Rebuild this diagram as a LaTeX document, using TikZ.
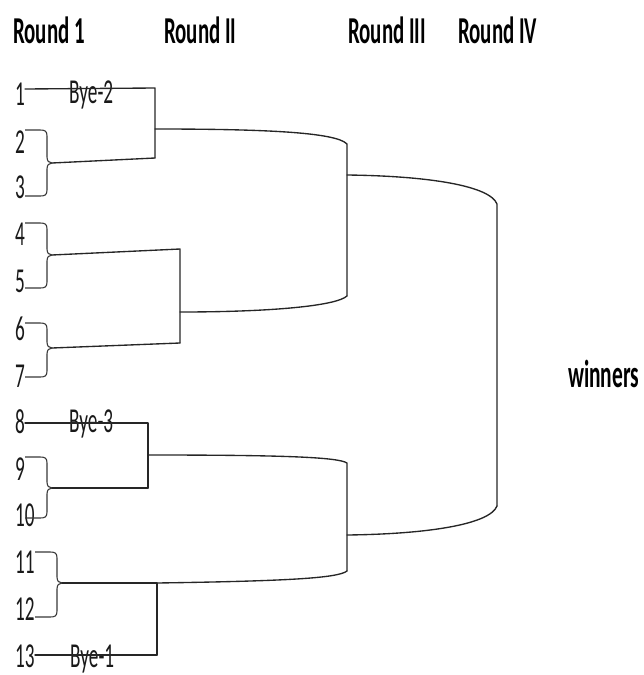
\documentclass[tikz,border=0pt]{standalone}
\usepackage{fontspec}
\newfontfamily\lblfont[FakeStretch=0.55]{Carlito}
\begin{document}
\begin{tikzpicture}[x=1pt,y=-1pt,
  hdr/.style={anchor=base west,inner sep=0pt,font=\lblfont\bfseries\fontsize{38}{38}\selectfont},
  numlbl/.style={anchor=base west,inner sep=0pt,text=black!90,font=\lblfont\fontsize{35}{35}\selectfont},
  byelbl/.style={numlbl},
  link/.style={draw=black!85,line width=1.35pt,line join=round,line cap=round},
  brline/.style={draw=black!78,line width=1.1pt,line join=round}]
\useasboundingbox (0,0) rectangle (643,675);

% curly bracket joining two entrants: start x, spine x, top y, tip y, bottom y
\newcommand\pairbrace[5]{%
  \draw[brline] (#1,#3) -- (#2-7,#3) .. controls (#2-2,#3) and (#2,#3+1) .. (#2,#3+6)
    -- (#2,#4-6) .. controls (#2,#4-2) and (#2+2,#4) .. (#2+5,#4)
    .. controls (#2+2,#4) and (#2,#4+2) .. (#2,#4+6)
    -- (#2,#5-6) .. controls (#2,#5-1) and (#2-2,#5) .. (#2-7,#5) -- (#1,#5);}

% column headings
\node[hdr] (hR1) at (13,43) {Round 1};
\node[hdr] (hR2) at (164,43) {Round II};
\node[hdr] (hR3) at (348,43) {Round III};
\node[hdr] (hR4) at (458,43) {Round IV};
\node[hdr,font=\lblfont\bfseries\fontsize{39}{39}\selectfont] (win) at (568,387) {winners};

% entrants
\node[numlbl] (n1) at (15,105) {1};
\node[numlbl] (n2) at (15,153) {2};
\node[numlbl] (n3) at (15,198) {3};
\node[numlbl] (n4) at (15,245) {4};
\node[numlbl] (n5) at (15,292) {5};
\node[numlbl] (n6) at (15,340) {6};
\node[numlbl] (n7) at (15,387) {7};
\node[numlbl] (n8) at (15,433) {8};
\node[numlbl] (n9) at (15,480) {9};
\node[numlbl] (n10) at (15,526) {10};
\node[numlbl] (n11) at (15,573) {11};
\node[numlbl] (n12) at (15,620) {12};
\node[numlbl] (n13) at (15,667) {13};

% byes
\node[byelbl] (bye2) at (69,103) {Bye-2};
\node[byelbl] (bye3) at (69,432) {Bye-3};
\node[byelbl] (bye1) at (70,667) {Bye-1};

% junction points
\coordinate (s1) at (25,89);
\coordinate (a1top) at (155,88);
\coordinate (a1mid) at (155,129);
\coordinate (a1bot) at (155,158);
\coordinate (t23) at (52,163);

\coordinate (t45) at (52,255);
\coordinate (t67) at (52,348);
\coordinate (b1top) at (180,249);
\coordinate (b1mid) at (180,312);
\coordinate (b1bot) at (180,343);

\coordinate (r3top) at (347,144);
\coordinate (r3mid) at (347,175);
\coordinate (r3bot) at (347,296);

\coordinate (s8) at (25,423);
\coordinate (c1top) at (148,423);
\coordinate (c1mid) at (148,455);
\coordinate (c1bot) at (148,488);
\coordinate (t910) at (52,488);

\coordinate (t1112) at (62,583);
\coordinate (d1top) at (157,583);
\coordinate (d1bot) at (157,655);
\coordinate (s13) at (35,655);

\coordinate (r3ctop) at (347,463);
\coordinate (r3cmid) at (347,535);
\coordinate (r3cbot) at (347,571);

\coordinate (r4top) at (497,204);
\coordinate (r4bot) at (497,506);

% first-round pairings
\pairbrace{25}{47}{130}{163}{196}
\pairbrace{25}{47}{223}{255}{288}
\pairbrace{25}{47}{323}{348}{377}
\pairbrace{25}{47}{457}{488}{518}
\pairbrace{35}{57}{552}{583}{617}

% round II
\draw[link] (s1) -- (a1top) -- (a1bot);
\draw[link] (t23) -- (a1bot);
\draw[link] (t45) -- (b1top) -- (b1bot);
\draw[link] (t67) -- (b1bot);
\draw[link] (s8) -- (c1top) -- (c1bot);
\draw[link] (t910) -- (c1bot);
\draw[link] (t1112) -- (d1top) -- (d1bot);
\draw[link] (s13) -- (d1bot);

% round III
\draw[link] (a1mid) .. controls (260,129) and (336,132) .. (r3top) -- (r3bot);
\draw[link] (b1mid) .. controls (270,312) and (336,306) .. (r3bot);
\draw[link] (c1mid) .. controls (280,455) and (338,457) .. (r3ctop) -- (r3cbot);
\draw[link] (d1top) .. controls (290,581) and (338,578) .. (r3cbot);

% round IV
\draw[link] (r3mid) .. controls (430,176) and (490,186) .. (r4top) -- (r4bot);
\draw[link] (r3cmid) .. controls (430,534) and (490,524) .. (r4bot);
\end{tikzpicture}
\end{document}
